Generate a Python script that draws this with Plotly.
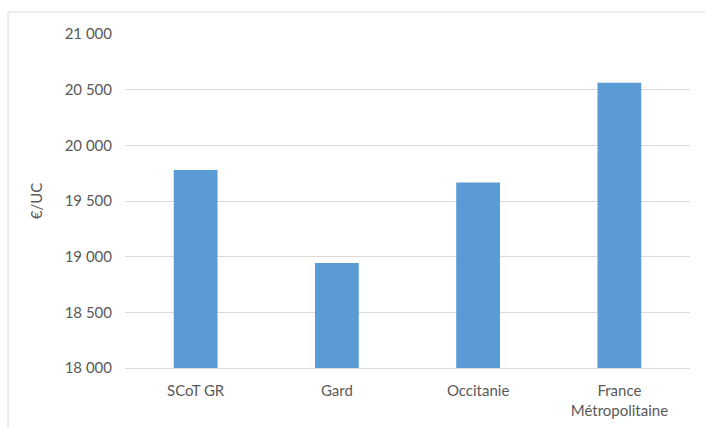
import plotly.graph_objects as go

categories = ["SCoT GR", "Gard", "Occitanie", "France<br>Métropolitaine"]
values = [19778, 18942, 19667, 20563]
tick_vals = [18000, 18500, 19000, 19500, 20000, 20500, 21000]
tick_text = ["18 000", "18 500", "19 000", "19 500", "20 000", "20 500", "21 000"]

fig = go.Figure(go.Bar(x=categories, y=values, marker=dict(color="#5B9BD5", line=dict(width=0))))

fig.update_layout(
    width=705, height=428,
    margin=dict(l=125, r=15, t=34, b=60),
    paper_bgcolor="white", plot_bgcolor="white",
    bargap=0.69,
    showlegend=False,
    font=dict(family="Lato", size=15, color="#595959"),
    shapes=[dict(type="rect", xref="paper", yref="paper", x0=-0.207, x1=1.1, y0=-0.4, y1=1.066,
                 line=dict(color="#D9D9D9", width=1), fillcolor="rgba(0,0,0,0)", layer="below")],
)
fig.update_xaxes(showgrid=False, showline=True, linecolor="#D9D9D9", linewidth=1,
                 ticks="outside", ticklen=9, tickcolor="rgba(0,0,0,0)", automargin=False,
                 tickfont=dict(size=15, color="#595959"))
fig.update_yaxes(range=[18000, 21000], tickvals=tick_vals, ticktext=tick_text,
                 showgrid=True, gridcolor="#D9D9D9", gridwidth=1, zeroline=False,
                 showline=False, ticks="outside", ticklen=9, tickcolor="rgba(0,0,0,0)",
                 automargin=False,
                 tickfont=dict(size=15, color="#595959"),
                 title=dict(text="€/UC", font=dict(size=15, color="#595959"), standoff=18))

fig.write_html("out.html")
